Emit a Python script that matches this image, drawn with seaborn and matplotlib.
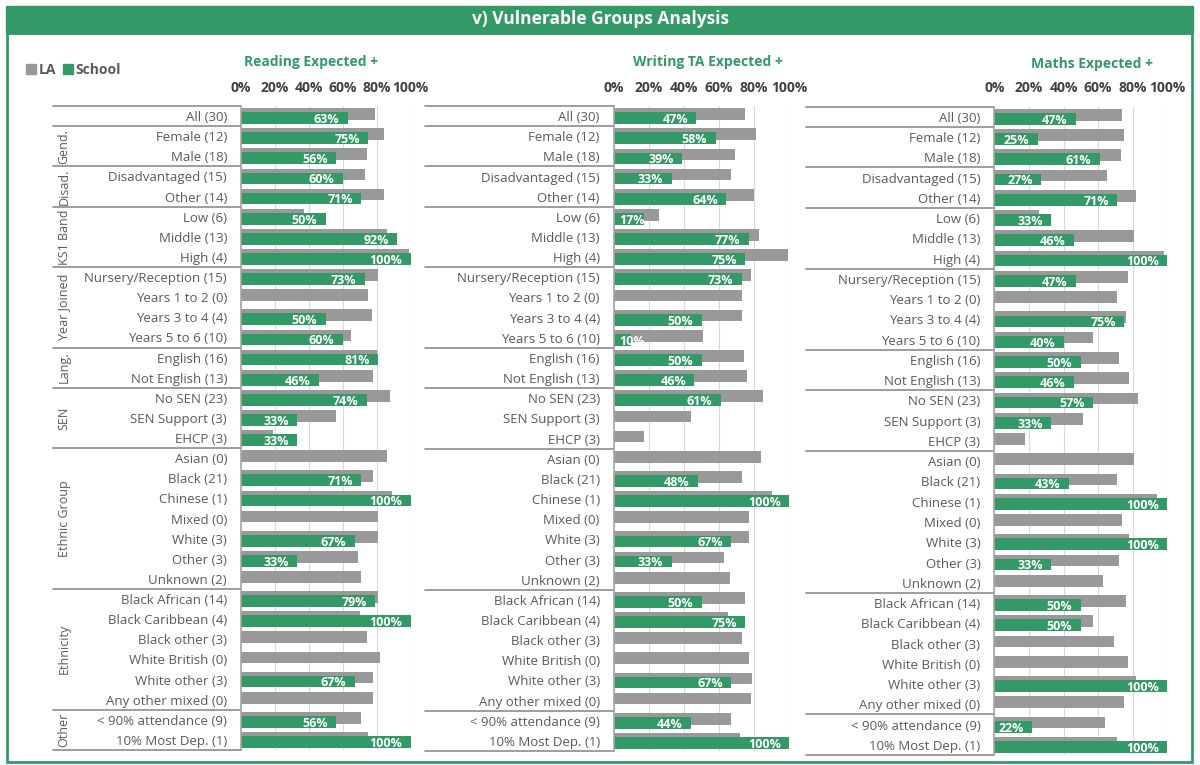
import pandas as pd
import matplotlib.pyplot as plt
import matplotlib.transforms as mtransforms
from matplotlib.patches import Rectangle, Patch
import seaborn as sns

# Etiquetas de las filas (mismo orden en los tres paneles)
labels = ['All (30)', 'Female (12)', 'Male (18)', 'Disadvantaged (15)', 'Other (14)',
          'Low (6)', 'Middle (13)', 'High (4)', 'Nursery/Reception (15)', 'Years 1 to 2 (0)',
          'Years 3 to 4 (4)', 'Years 5 to 6 (10)', 'English (16)', 'Not English (13)',
          'No SEN (23)', 'SEN Support (3)', 'EHCP (3)', 'Asian (0)', 'Black (21)', 'Chinese (1)',
          'Mixed (0)', 'White (3)', 'Other (3)', 'Unknown (2)', 'Black African (14)',
          'Black Caribbean (4)', 'Black other (3)', 'White British (0)', 'White other (3)',
          'Any other mixed (0)', '< 90% attendance (9)', '10% Most Dep. (1)']

# Grupos de filas (nombre, número de filas)
group_names = ['', 'Gend.', 'Disad.', 'KS1 Band', 'Year Joined', 'Lang.', 'SEN',
               'Ethnic Group', 'Ethnicity', 'Other']
group_sizes = [1, 2, 2, 3, 4, 2, 3, 7, 6, 2]

# Reading Expected +
la_reading = [79, 84, 74, 73, 84, 37, 86, 99, 81, 75, 77, 65, 80, 78, 88, 56, 19, 86, 78,
              89, 81, 81, 69, 71, 81, 70, 74, 82, 78, 78, 71, 75]
school_reading = [63, 75, 56, 60, 71, 50, 92, 100, 73, None, 50, 60, 81, 46, 74, 33, 33, None,
                  71, 100, None, 67, 33, None, 79, 100, None, None, 67, None, 56, 100]

# Writing TA Expected +
la_writing = [75, 81, 69, 67, 80, 26, 83, 99, 78, 73, 73, 51, 74, 76, 85, 44, 17, 84, 73,
              90, 77, 77, 63, 66, 75, 65, 73, 77, 79, 78, 67, 72]
school_writing = [47, 58, 39, 33, 64, 17, 77, 75, 73, None, 50, 10, 50, 46, 61, None, None, None,
                  48, 100, None, 67, 33, None, 50, 75, None, None, 67, None, 44, 100]

# Maths Expected +
la_maths = [74, 75, 73, 65, 82, 26, 81, 98, 77, 71, 76, 57, 72, 78, 83, 51, 18, 81, 71,
            94, 74, 78, 72, 63, 76, 57, 69, 77, 82, 75, 64, 71]
school_maths = [47, 25, 61, 27, 71, 33, 46, 100, 47, None, 75, 40, 50, 46, 57, 33, None, None,
                43, 100, None, 100, 33, None, 50, 50, None, None, 100, None, 22, 100]

pct_ticks = [0, 20, 40, 60, 80, 100]

W, H = 1200, 765
GREEN = '#339966'
GREY = '#999999'
TEXT = '#595959'
LINE = '#8c8c8c'


def fx(px):
    return px / W


def fy(py):
    return 1 - py / H


sns.set_style('white')
plt.rcParams['font.family'] = ['Open Sans', 'DejaVu Sans']

fig = plt.figure(figsize=(12, 7.65), dpi=100)

# Barra de título y marco
fig.add_artist(Rectangle((fx(6), fy(33)), fx(1187), 27 / H, transform=fig.transFigure,
                         color=GREEN, zorder=0))
fig.add_artist(Rectangle((fx(7), fy(762)), fx(1185), (762 - 33) / H, transform=fig.transFigure,
                         fill=False, ec=GREEN, lw=2, zorder=0))
fig.text(0.5, fy(19.5), 'v) Vulnerable Groups Analysis', color='white', fontweight='bold',
         fontsize=12.5, ha='center', va='center')

# (título, LA, escuela, [izq, der, arriba, abajo] en px, centro título, borde tabla)
panels = [
    ('Reading Expected +', la_reading, school_reading, (241, 410.7, 106, 750), (311, 62), 53),
    ('Writing TA Expected +', la_writing, school_writing, (613.7, 789.3, 106, 751), (708, 62), 425),
    ('Maths Expected +', la_maths, school_maths, (994.3, 1167.3, 106.6, 755), (1092, 64), 806),
]

for i, (title, la, school, (l, r, t, b), (tx, ty), table_left) in enumerate(panels):
    ax = fig.add_axes([fx(l), fy(b), fx(r - l), (b - t) / H])
    df = pd.DataFrame({'label': labels, 'LA': la, 'School': school})

    sns.barplot(data=df, x='LA', y='label', order=labels, color=GREY, saturation=1,
                width=0.58, errorbar=None, linewidth=0, ax=ax)
    sns.barplot(data=df.dropna(subset=['School']), x='School', y='label', order=labels,
                color=GREEN, saturation=1, width=0.58, errorbar=None, linewidth=0, ax=ax)

    # LA un poco arriba, escuela un poco abajo (solapadas)
    for cont, dy in zip(ax.containers, [-0.1, 0.1]):
        for p in cont.patches:
            p.set_transform(mtransforms.Affine2D().translate(0, dy) + ax.transData)

    ax.set_xlim(0, 100)
    ax.set_ylim(len(labels) - 0.5, -0.5)
    ax.set_xlabel('')
    ax.set_ylabel('')

    ax.xaxis.tick_top()
    ax.set_xticks(pct_ticks)
    ax.set_xticklabels([f'{v}%' for v in pct_ticks])
    ax.tick_params(axis='x', length=0, pad=8, labelsize=10, labelcolor='#404040')
    for lbl in ax.get_xticklabels():
        lbl.set_fontweight('bold')
    ax.tick_params(axis='y', length=0, pad=10, labelsize=9.5, labelcolor=TEXT)

    for side in ['top', 'right', 'bottom']:
        ax.spines[side].set_visible(False)
    ax.spines['left'].set_color('#a6a6a6')
    ax.spines['left'].set_linewidth(1.2)

    ax.xaxis.grid(True, color='#d9d9d9', lw=0.8)
    ax.yaxis.grid(False)
    ax.set_axisbelow(True)

    # Etiquetas de valor de la escuela
    for row, v in enumerate(school):
        if v is None:
            continue
        if v < 20:
            ax.annotate(f'{v}%', (0, row + 0.1), xytext=(4, -1), textcoords='offset points',
                        ha='left', va='center', color='white', fontsize=9, fontweight='bold')
        else:
            ax.annotate(f'{v}%', (v, row + 0.1), xytext=(-6, -1), textcoords='offset points',
                        ha='right', va='center', color='white', fontsize=9, fontweight='bold')

    # Líneas separadoras de la tabla de etiquetas
    trans = mtransforms.blended_transform_factory(ax.transAxes, ax.transData)
    x0 = (table_left - l) / (r - l)
    edges = [-0.5]
    for n in group_sizes:
        edges.append(edges[-1] + n)
    for y in edges:
        ax.plot([x0, 0], [y, y], transform=trans, color=LINE, lw=1.2, clip_on=False)

    # Nombres de grupo (solo primer panel)
    if i == 0:
        xg = (64 - l) / (r - l)
        for name, lo, hi in zip(group_names, edges[:-1], edges[1:]):
            if name:
                ax.text(xg, (lo + hi) / 2, name, transform=trans, rotation=90, ha='center',
                        va='center', fontsize=9, color=TEXT)

    fig.text(fx(tx), fy(ty), title, ha='center', va='center', color=GREEN, fontsize=10,
             fontweight='bold')

fig.legend(handles=[Patch(color=GREY, label='LA'), Patch(color=GREEN, label='School')],
           loc='center left', bbox_to_anchor=(fx(26), fy(70)), ncol=2, frameon=False,
           handlelength=0.75, handleheight=0.75, handletextpad=0.15, columnspacing=0.5,
           borderpad=0, borderaxespad=0, prop={'weight': 'bold', 'size': 10}, labelcolor=TEXT)

fig.savefig('out.png', dpi=100)
